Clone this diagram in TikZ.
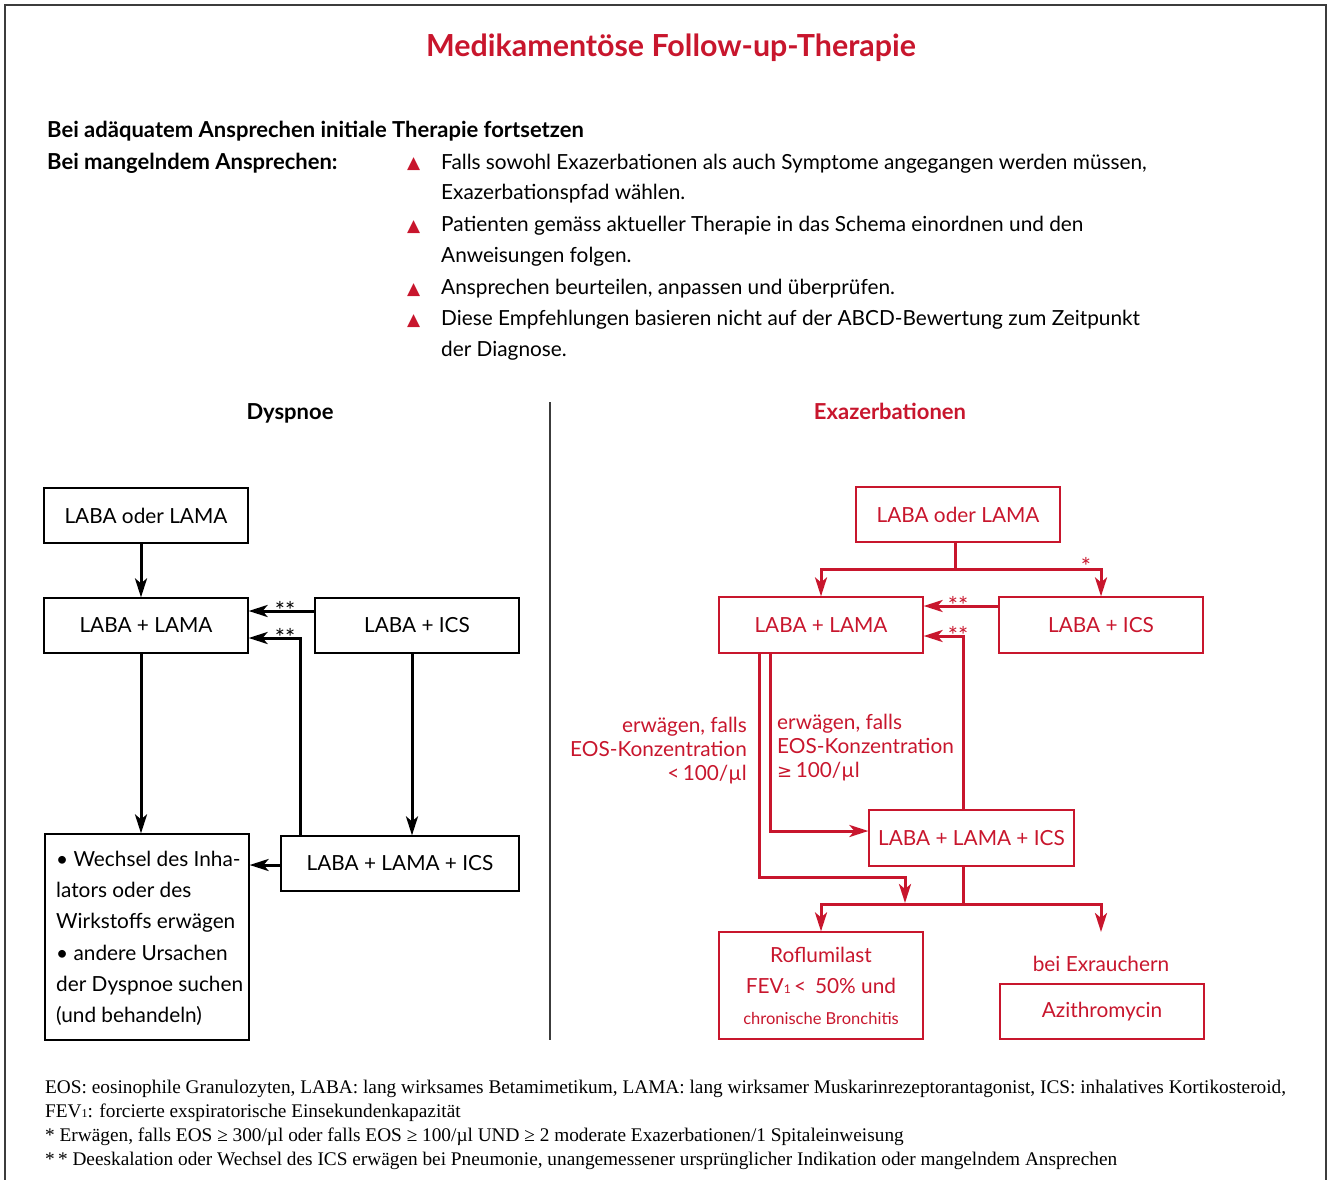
\documentclass[tikz,border=0pt]{standalone}
\usepackage{fontspec}
\setmainfont{Lato}
\newfontfamily\serif{Liberation Serif}
\newfontfamily\dejavu{DejaVu Sans}
\usetikzlibrary{arrows.meta}
\definecolor{kred}{RGB}{200,22,45}
\definecolor{frame}{RGB}{60,60,60}
\tikzset{
  t20/.style={font=\fontsize{20.8}{24}\selectfont, inner sep=0pt},
  b20/.style={font=\fontsize{22}{26}\selectfont\bfseries, inner sep=0pt},
  fn/.style={font=\serif\fontsize{19.3}{22}\selectfont, inner sep=0pt, anchor=base west},
  box/.style={draw, line width=1.2pt, minimum width=204pt, minimum height=55pt, inner sep=0pt, font=\fontsize{20.8}{24}\selectfont},
  rbox/.style={box, draw=kred, text=kred},
  conn/.style={line width=3pt},
  arr/.style={conn, -{Stealth[length=19pt,width=12pt,inset=5pt]}},
  rconn/.style={conn, color=kred},
  rarr/.style={arr, color=kred},
  star/.style={font=\fontsize{24}{24}\selectfont, inner sep=0pt},
  tri/.style={font=\dejavu\fontsize{17}{17}\selectfont, text=kred, inner sep=0pt, anchor=base west}
}
\begin{document}
\begin{tikzpicture}[x=1pt,y=-1pt]
\useasboundingbox (0,0) rectangle (1328,1180);
% frame
\draw[frame, line width=1.5pt] (5,1190) -- (5,5) -- (1326,5) -- (1326,1190);

% title
\node[font=\fontsize{30.4}{34}\selectfont\bfseries, text=kred, inner sep=0pt, anchor=base] (title) at (671,57) {Medikamentöse Follow-up-Therapie};

% header
\node[b20, anchor=base west] (h1) at (47,138) {Bei adäquatem Ansprechen initiale Therapie fortsetzen};
\node[b20, anchor=base west] (h2) at (47,169) {Bei mangelndem Ansprechen:};

\node[tri] (tr1) at (407,168) {▲};
\node[tri] (tr2) at (407,231) {▲};
\node[tri] (tr3) at (407,294) {▲};
\node[tri] (tr4) at (407,325) {▲};
\node[t20, anchor=base west] (b1a) at (441,169) {Falls sowohl Exazerbationen als auch Symptome angegangen werden müssen,};
\node[t20, anchor=base west] (b1b) at (441,200) {Exazerbationspfad wählen.};
\node[t20, anchor=base west] (b2a) at (441,231) {Patienten gemäss aktueller Therapie in das Schema einordnen und den};
\node[t20, anchor=base west] (b2b) at (441,262) {Anweisungen folgen.};
\node[t20, anchor=base west] (b3a) at (441,294) {Ansprechen beurteilen, anpassen und überprüfen.};
\node[t20, anchor=base west] (b4a) at (441,325) {Diese Empfehlungen basieren nicht auf der ABCD-Bewertung zum Zeitpunkt};
\node[t20, anchor=base west] (b4b) at (441,356) {der Diagnose.};

% section titles
\node[b20, anchor=base] (dys) at (290,419) {Dyspnoe};
\node[b20, anchor=base, text=kred] (exa) at (890,419) {Exazerbationen};
\draw[frame, line width=1.3pt] (550,402) -- (550,1040);

% ---------- left diagram ----------
\node[box] (l1) at (146,515.5) {LABA oder LAMA};
\node[box] (l2) at (146,625.5) {LABA + LAMA};
\node[box] (l3) at (417,625.5) {LABA + ICS};
\node[box, minimum width=238pt] (l4) at (400,863.5) {LABA + LAMA + ICS};
\node[box, minimum height=206pt] (l5) at (147,937) {};
\node[t20, anchor=base west] (l5a) at (56,866) {• Wechsel des Inha-};
\node[t20, anchor=base west] (l5b) at (56,897) {lators oder des};
\node[t20, anchor=base west] (l5c) at (56,928) {Wirkstoffs erwägen};
\node[t20, anchor=base west] (l5d) at (56,960) {• andere Ursachen};
\node[t20, anchor=base west] (l5e) at (56,991) {der Dyspnoe suchen};
\node[t20, anchor=base west] (l5f) at (56,1022) {(und behandeln)};

\draw[arr] ([xshift=-5pt]l1.south) -- ([xshift=-5pt]l2.north);
\draw[arr] ([yshift=14.5pt]l3.west) -- ([yshift=14.5pt]l2.east);
\draw[arr] ([xshift=-100pt]l4.north) |- ([yshift=-12.5pt]l2.east);
\draw[arr] ([xshift=-5pt]l2.south) -- ([xshift=-6pt]l5.north);
\draw[arr] ([xshift=-5pt]l3.south) -- ([xshift=12pt]l4.north);
\draw[arr] ([yshift=-1.5pt]l4.west) -- ([yshift=-1.5pt]l4.west -| l5.east);
\node[star] (ls1) at (285,610) {**};
\node[star] (ls2) at (285,637) {**};

% ---------- right diagram ----------
\node[rbox] (r1) at (958,514.5) {LABA oder LAMA};
\node[rbox, minimum height=56pt] (r2) at (821,625) {LABA + LAMA};
\node[rbox, minimum height=56pt] (r3) at (1101,625) {LABA + ICS};
\node[rbox, minimum width=205pt, minimum height=56pt] (r4) at (971.5,838) {LABA + LAMA + ICS};
\node[rbox, minimum height=107pt] (r5) at (821,985.5) {};
\node[t20, text=kred, anchor=base] (r5a) at (821,962) {Roflumilast};
\node[t20, text=kred, anchor=base] (r5b) at (821,993) {FEV{\fontsize{12}{12}\selectfont 1}\,<\, 50\% und};
\node[font=\fontsize{16.5}{20}\selectfont, inner sep=0pt, text=kred, anchor=base] (r5c) at (821,1024) {chronische Bronchitis};
\node[rbox] (r6) at (1102,1011.5) {Azithromycin};
\node[t20, text=kred, anchor=base] (r6a) at (1101,971) {bei Exrauchern};

\coordinate (rj1) at (955,569);
\draw[rconn] ([xshift=-3pt]r1.south) -- (rj1);
\draw[rarr] (rj1) -| (r2.north);
\draw[rarr] (rj1) -| (r3.north);
\node[star, text=kred] (rs0) at (1086,566) {*};
\draw[rarr] ([yshift=19pt]r3.west) -- ([yshift=19pt]r2.east);
\draw[rarr] ([xshift=-8.5pt]r4.north) |- ([yshift=-11pt]r2.east);
\node[star, text=kred] (rs1) at (958,605) {**};
\node[star, text=kred] (rs2) at (958,635) {**};

\coordinate (rk1) at (905,877);
\coordinate (rk2) at (905,903);
\draw[rarr] ([xshift=-51pt]r2.south) |- ([yshift=7pt]r4.west);
\draw[rarr] ([xshift=-62pt]r2.south) |- (rk1) -- (rk2);

\coordinate (rj2) at (963,904);
\coordinate (rex) at (1101,932);
\draw[rconn] ([xshift=-8.5pt]r4.south) -- (rj2);
\draw[rarr] (rj2) -| (r5.north);
\draw[rarr] (rj2) -| (rex);

\node[t20, text=kred, anchor=base east] (lbl1a) at (747,732) {erwägen, falls};
\node[t20, text=kred, anchor=base east] (lbl1b) at (747,756) {EOS-Konzentration};
\node[t20, text=kred, anchor=base east] (lbl1c) at (747,780) {<\,100/µl};
\node[t20, text=kred, anchor=base west] (lbl2a) at (777,729) {erwägen, falls};
\node[t20, text=kred, anchor=base west] (lbl2b) at (777,753) {EOS-Konzentration};
\node[t20, text=kred, anchor=base west] (lbl2c) at (777,777) {{\dejavu\fontsize{18}{20}\selectfont ≥}\,100/µl};

% ---------- footnotes ----------
\node[fn] (f1) at (45,1093) {EOS: eosinophile Granulozyten, LABA: lang wirksames Betamimetikum, LAMA: lang wirksamer Muskarinrezeptorantagonist, ICS: inhalatives Kortikosteroid,};
\node[fn] (f2) at (45,1117) {FEV{\fontsize{12}{12}\selectfont 1}: forcierte exspiratorische Einsekundenkapazität};
\node[fn] (f3) at (45,1141) {* Erwägen, falls EOS ≥ 300/µl oder falls EOS ≥ 100/µl UND ≥ 2 moderate Exazerbationen/1 Spitaleinweisung};
\node[fn] (f4) at (45,1165) {*\,* Deeskalation oder Wechsel des ICS erwägen bei Pneumonie, unangemessener ursprünglicher Indikation oder mangelndem Ansprechen};
\end{tikzpicture}
\end{document}
